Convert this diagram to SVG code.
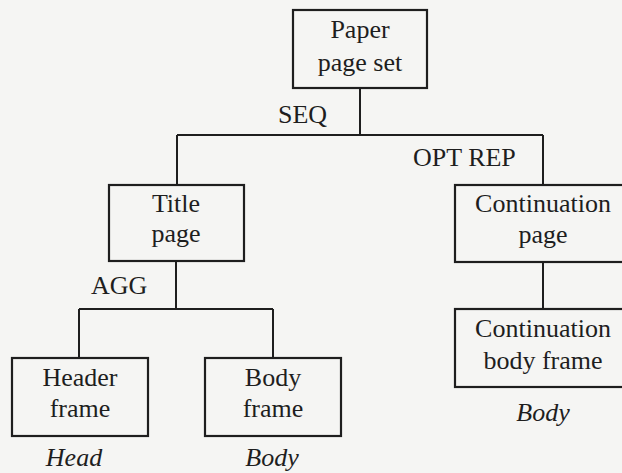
<svg xmlns="http://www.w3.org/2000/svg" width="622" height="473" viewBox="0 0 622 473">
<style>
.box{fill:none;stroke:#1e1e1e;stroke-width:2.2}
.ln{fill:none;stroke:#1e1e1e;stroke-width:2}
text{font-family:"Liberation Serif","Times New Roman",serif;font-size:26px;fill:#1e1e1e}
.c{text-anchor:middle}
.i{font-style:italic}
</style>
<rect x="0" y="0" width="622" height="473" fill="#f5f5f3"/>
<g id="connectors">
<path class="ln" d="M360,88 V135 M177,135 H543 M177,135 V185 M543,135 V185"/>
<path class="ln" d="M176,261 V309 M79,309 H273 M79,309 V358 M273,309 V358"/>
<path class="ln" d="M543,262 V309"/>
<text x="278" y="123">SEQ</text>
<text x="413" y="166">OPT REP</text>
<text x="91" y="294">AGG</text>
</g>
<g id="paper-page-set">
<rect class="box" x="293" y="10" width="134" height="78"/>
<text class="c" x="360" y="38">Paper</text>
<text class="c" x="360" y="71">page set</text>
</g>
<g id="title-page">
<rect class="box" x="109" y="185" width="135" height="76"/>
<text class="c" x="176" y="212">Title</text>
<text class="c" x="176" y="242">page</text>
</g>
<g id="continuation-page">
<rect class="box" x="455" y="185" width="177" height="77"/>
<text class="c" x="543" y="212">Continuation</text>
<text class="c" x="543" y="243">page</text>
</g>
<g id="continuation-body-frame">
<rect class="box" x="455" y="309" width="177" height="78"/>
<text class="c" x="543" y="337">Continuation</text>
<text class="c" x="543" y="369">body frame</text>
<text class="c i" x="543" y="421">Body</text>
</g>
<g id="header-frame">
<rect class="box" x="12" y="358" width="136" height="78"/>
<text class="c" x="80" y="386">Header</text>
<text class="c" x="80" y="417">frame</text>
<text class="c i" x="74" y="466">Head</text>
</g>
<g id="body-frame">
<rect class="box" x="205" y="358" width="136" height="78"/>
<text class="c" x="273" y="386">Body</text>
<text class="c" x="273" y="417">frame</text>
<text class="c i" x="272" y="466">Body</text>
</g>
</svg>
